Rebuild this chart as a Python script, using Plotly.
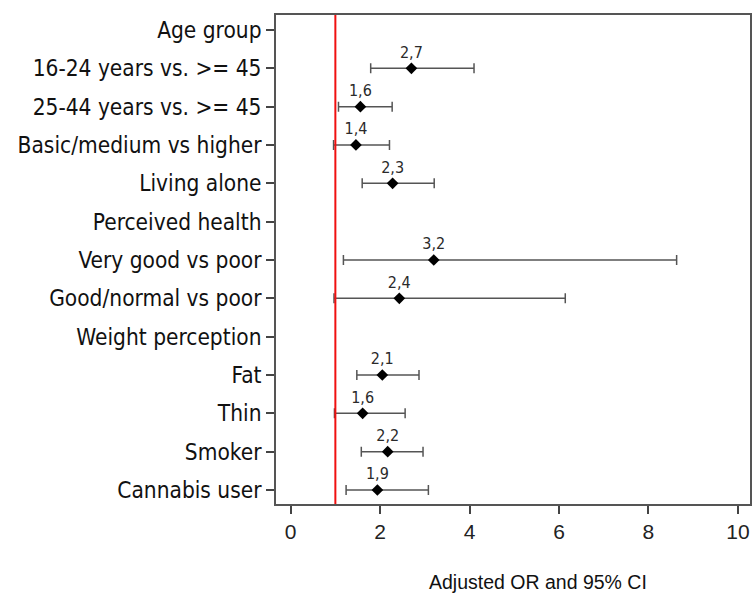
import plotly.graph_objects as go

categories = [
    "Age group",
    "16-24 years vs. >= 45",
    "25-44 years vs. >= 45",
    "Basic/medium vs higher",
    "Living alone",
    "Perceived health",
    "Very good vs poor",
    "Good/normal vs poor",
    "Weight perception",
    "Fat",
    "Thin",
    "Smoker",
    "Cannabis user",
]

# rows that carry an estimate (index into categories)
est_rows = [1, 2, 3, 4, 6, 7, 9, 10, 11, 12]
or_values = [2.70, 1.56, 1.46, 2.28, 3.20, 2.43, 2.05, 1.61, 2.17, 1.94]
or_labels = ["2,7", "1,6", "1,4", "2,3", "3,2", "2,4", "2,1", "1,6", "2,2", "1,9"]
ci_low = [1.79, 1.07, 0.96, 1.60, 1.18, 0.97, 1.48, 0.98, 1.58, 1.24]
ci_high = [4.10, 2.27, 2.21, 3.21, 8.63, 6.14, 2.87, 2.56, 2.96, 3.08]

x_ticks = [0, 2, 4, 6, 8, 10]
reference_or = 1
x_title = "Adjusted OR and 95% CI"

err_plus = [h - v for h, v in zip(ci_high, or_values)]
err_minus = [v - l for v, l in zip(or_values, ci_low)]

COND = "DejaVu Sans Condensed, Liberation Sans, Arial"

fig = go.Figure()

fig.add_trace(go.Scatter(
    x=or_values,
    y=est_rows,
    mode="markers+text",
    text=or_labels,
    textposition="top center",
    textfont=dict(family=COND, size=16, color="#2a2a2a"),
    marker=dict(symbol="diamond", size=9, color="black"),
    error_x=dict(
        type="data",
        symmetric=False,
        array=err_plus,
        arrayminus=err_minus,
        color="#555555",
        thickness=1.5,
        width=5,
    ),
    showlegend=False,
    cliponaxis=False,
))

fig.add_vline(x=reference_or, line=dict(color="#f01010", width=2))

fig.update_xaxes(
    range=[-0.327, 10.27],
    tickvals=x_ticks,
    ticktext=[str(t) for t in x_ticks],
    ticks="outside",
    ticklen=8,
    tickwidth=1.5,
    tickcolor="#444444",
    showgrid=False,
    zeroline=False,
    showline=True,
    linecolor="#555555",
    linewidth=2,
    mirror=True,
    tickfont=dict(family="Liberation Sans, Arial", size=21, color="#222222"),
)

fig.update_yaxes(
    range=[12.365, -0.39],
    tickvals=list(range(len(categories))),
    ticktext=categories,
    ticks="outside",
    ticklen=8,
    tickwidth=1.5,
    tickcolor="#444444",
    showgrid=False,
    zeroline=False,
    showline=True,
    linecolor="#555555",
    linewidth=2,
    mirror=True,
    tickfont=dict(family=COND, size=22.5, color="#111111"),
)

fig.add_annotation(
    text=x_title,
    xref="paper", yref="paper",
    x=0.552, y=-0.16,
    xanchor="center", yanchor="middle",
    showarrow=False,
    font=dict(family="Liberation Sans, Arial", size=19.5, color="#111111"),
)

fig.update_layout(
    width=753,
    height=594,
    margin=dict(l=276, r=1, t=15, b=90),
    plot_bgcolor="white",
    paper_bgcolor="white",
)

fig.write_html("out.html")
